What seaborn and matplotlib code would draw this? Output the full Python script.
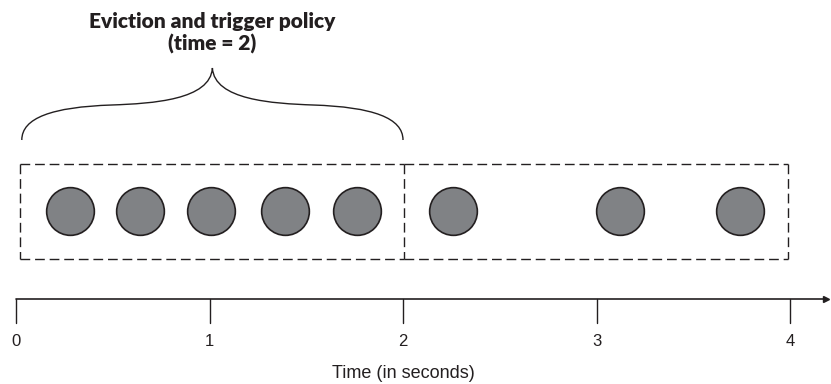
import matplotlib
matplotlib.use("Agg")
import matplotlib.pyplot as plt
import seaborn as sns
import pandas as pd
from matplotlib.patches import PathPatch
from matplotlib.path import Path

# ---- data ----
event_times = [0.28, 0.64, 1.01, 1.39, 1.76, 2.26, 3.12, 3.74]
windows = [(0, 2), (2, 4)]
tick_values = [0, 1, 2, 3, 4]
tick_labels = ["0", "1", "2", "3", "4"]
title_text = "Eviction and trigger policy\n(time = 2)"
xlabel_text = "Time (in seconds)"

sns.set_theme(style="white")
plt.rcParams['font.family'] = ['Liberation Sans', 'DejaVu Sans']

W, H = 831, 384
fig = plt.figure(figsize=(W / 100, H / 100), dpi=100)
ax = fig.add_axes([0, 0, 1, 1])
px_per_unit = 193.5
x0_px = 16
u = 1 / px_per_unit
ax.set_xlim(-x0_px / px_per_unit, (W - x0_px) / px_per_unit)
ax.set_ylim(H, 0)
ax.axis("off")

ink = "#231f20"
circle_y = 211
df = pd.DataFrame({"t": event_times, "y": [circle_y] * len(event_times)})
sns.scatterplot(data=df, x="t", y="y", ax=ax, s=1180, color="#808285",
                edgecolor=ink, linewidth=1.2, legend=False, zorder=3)

# dashed window boxes (shared edges drawn once)
top, bot = 164, 259
dash = (0, (7, 3.5))
drawn_v = set()
for i, (a, b) in enumerate(windows):
    left = a + 4 * u if a == windows[0][0] else a + 1 * u
    right = b + 1 * u if b != windows[-1][1] else b - 2 * u
    ax.plot([left, right], [top, top], color=ink, lw=1.0, linestyle=dash)
    ax.plot([left, right], [bot, bot], color=ink, lw=1.0, linestyle=dash)
    for xv in (left, right):
        key = round(xv, 3)
        if key in drawn_v:
            continue
        drawn_v.add(key)
        ax.plot([xv, xv], [top, bot], color=ink, lw=1.0, linestyle=dash)

# time axis
axis_y = 299
ax.plot([0, (826 - x0_px) * u], [axis_y, axis_y], color=ink, lw=1.2)
ax.plot([(826 - x0_px) * u], [axis_y], marker=">", markersize=5, color=ink)
for v, lab in zip(tick_values, tick_labels):
    ax.plot([v, v], [axis_y, axis_y + 24], color=ink, lw=1.0)
    ax.text(v, 341, lab, ha="center", va="center", fontsize=12, color=ink)
ax.text(2, 373, xlabel_text, ha="center", va="center", fontsize=13, color=ink)

# curly brace over first window
wa, wb = windows[0]
L = wa + 0.03
R = wb
M = (L + R) / 2
yb, yt = 140, 68
verts = [
    (L, yb),
    (L, 118), (L + 30 * u, 107), (L + 90 * u, 105),
    (M - 60 * u, 103.5), (M - 2 * u, 100), (M, yt),
    (M + 2 * u, 100), (M + 60 * u, 103.5), (R - 90 * u, 105),
    (R - 30 * u, 107), (R, 118), (R, yb),
]
codes = [Path.MOVETO] + [Path.CURVE4] * 12
ax.add_patch(PathPatch(Path(verts, codes), fill=False, edgecolor=ink, lw=1.0))

ax.text(M, 33, title_text, ha="center", va="center", fontsize=15,
        fontweight="heavy", family=["Lato", "DejaVu Sans"], color=ink,
        linespacing=1.2)

fig.savefig("out.png", dpi=100)
